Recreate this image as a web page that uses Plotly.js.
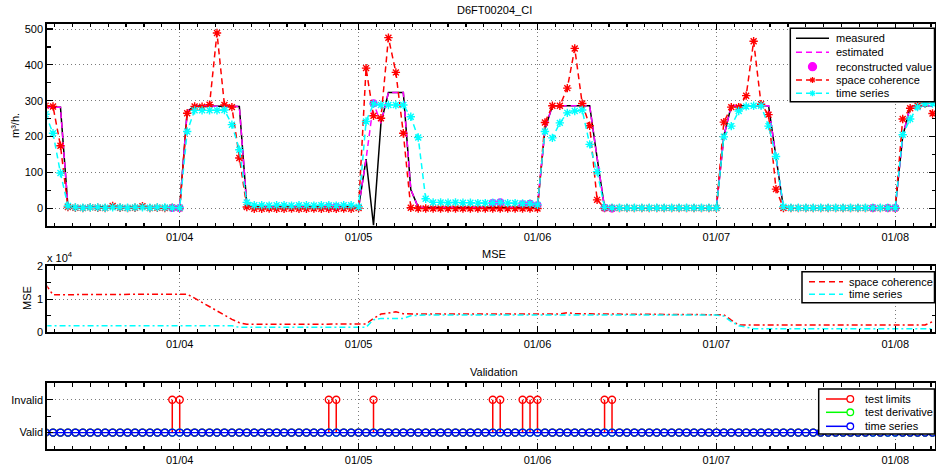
<!DOCTYPE html>
<html><head><meta charset="utf-8">
<script src="https://cdn.plot.ly/plotly-3.0.1.min.js"></script>
<style>html,body{margin:0;padding:0;background:#fff;}#chart{width:936px;height:469px;}</style>
</head><body><div id="chart"></div>
<script>
// ---------- DATA (hourly, from 2013-01-03 06:00) ----------
const seriesStart = '2013-01-03 06:00';
const nHours = 120;
const dayTicks = ['01/04','01/05','01/06','01/07','01/08'];

const measured = [282,282,282,5,
 3,2,3,3,2,3,3,2,3,3,2,3,2,2,
 2,270,285,285,285,285,285,285,284,9,
 4,4,5,4,4,5,4,4,4,5,4,4,4,4,
 2,137,-48,237,323,323,323,52,
 2,2,2,2,2,2,2,2,2,2,2,2,2,2,2,2,2,
 220,286,286,286,286,286,286,140,1,
 1,1,1,1,1,1,1,1,1,1,1,1,1,1,1,
 200,286,286,286,286,286,286,143,1,
 1,1,1,1,1,1,1,1,1,1,1,1,1,1,1,
 200,283,286,286,286];

const spaceCoherence = [286,284,174,3,
 1,0,2,1,0,6,1,0,1,5,0,1,0,1,
 0,265,284,283,289,489,288,282,140,3,
 -2,-2,-1,-2,-2,-1,-2,-2,-1,-2,-2,-2,-1,-2,
 0,391,258,251,476,379,209,1,
 -1,-1,-1,-1,-1,-1,-1,-1,-1,-1,-1,-1,-1,-1,-1,-1,-1,
 239,286,286,335,446,292,230,23,
 0,0,0,0,0,0,0,0,0,0,0,0,0,0,0,0,
 240,282,282,314,466,290,261,53,
 0,0,0,0,0,0,0,0,0,0,0,0,0,0,0,0,
 249,279,286,292,264];

const timeSeries = [262,209,98,6,
 2,1,2,2,1,2,2,1,2,2,1,2,2,1,
 1,214,273,273,273,273,274,233,163,16,
 8,8,7,8,8,7,8,8,7,8,8,7,8,8,
 4,242,291,288,288,288,288,255,197,26,
 16,16,15,16,15,15,14,14,15,16,14,14,13,13,
 9,214,196,238,266,271,274,178,102,
 2,
 1,1,1,1,1,1,1,1,1,1,1,1,1,1,1,
 199,229,271,284,286,286,229,144,4,
 1,1,1,1,1,1,1,1,1,1,1,1,1,1,1,
 205,249,282,292,292];

// invalid samples (test limits) and the reconstructed values there
const invalidTimes = ['2013-01-03 23:00','2013-01-04 00:00','2013-01-04 20:00','2013-01-04 21:00',
 '2013-01-05 02:00','2013-01-05 18:00','2013-01-05 19:00','2013-01-05 22:00','2013-01-05 23:00',
 '2013-01-06 00:00','2013-01-06 09:00','2013-01-06 10:00','2013-01-07 21:00','2013-01-07 23:00','2013-01-08 00:00'];
const reconValues = [0,0,4,3,293,14,16,11,12,8,1,-1,0,0,0];
const derivativeInvalidTimes = [];
const timeSeriesInvalidTimes = [];

const mseSpace = [14500,11300,
 11300,11400,11400,11400,11400,11400,11400,11400,11400,11500,11500,11500,11500,11500,11500,11500,11500,11500,
 10300,9000,7800,6500,5300,3900,2900,2400,
 2400,2400,2400,2400,2400,2400,2400,2400,2400,2400,2400,2400,2400,2400,2400,
 2500,4200,5500,5800,6200,5600,
 5500,5500,5500,5500,5500,5500,5500,5500,5500,5500,5500,5500,5500,5500,5500,5500,5500,5500,5500,5500,5500,
 5900,
 5600,5600,5500,5500,5500,5500,5500,5500,5500,5500,5500,5500,5500,5500,5500,5500,5500,5500,5400,5400,5300,
 3700,2200,
 2200,2200,2200,2200,2200,2200,2200,2200,2200,2200,2200,2200,2200,2200,2200,2200,2200,2200,2200,2200,2200,2200,2200,2200,2200,
 3200];

const mseTime = [2000,2000,2000,2000,2000,2000,2000,2000,2000,2000,2000,2000,2000,2000,2000,2000,2000,2000,2000,2000,2000,2000,2000,2000,2000,2000,
 1500,
 1500,1500,1500,1500,1500,1500,1500,1500,1500,1500,1500,1500,1500,1500,1500,1500,1500,
 3800,4200,4200,4200,4200,5000,
 5200,5200,5200,5200,5200,5200,5200,5200,5200,5200,5200,5200,5200,5200,5200,5200,5200,5200,5200,5200,5200,
 5200,5200,5200,5200,5200,5200,5200,5200,5200,5200,5200,5200,5200,5200,5200,5200,5200,5200,5200,5200,4900,
 3200,2000,1500,
 1100,1100,1100,1100,1100,1100,1100,1100,1100,1100,1100,1100,1100,1100,1100,1100,1100,1100,1100,1100,1100,1100,1100,1100,1100];

// ---------- BUILD ----------
const times = [];
{
  const t0 = Date.UTC(2013,0,3,6);
  for (let i=0;i<nHours;i++){
    const d = new Date(t0 + i*3600000);
    times.push(d.toISOString().slice(0,16).replace('T',' '));
  }
}
const estimated = times.map((t,i)=>{const k=invalidTimes.indexOf(t); return k>=0 ? reconValues[k] : measured[i];});
const flagsFrom = list => times.map(t => list.includes(t) ? 1 : 0);
const testLimits = flagsFrom(invalidTimes);
const testDerivative = flagsFrom(derivativeInvalidTimes);
const tsValidation = flagsFrom(timeSeriesInvalidTimes);
const stemX=[], stemY=[];
testLimits.forEach((f,i)=>{ if(f){ stemX.push(times[i],times[i],null); stemY.push(0,f,null);} });

const RED='#FF0000', CYAN='#00FFFF', MAG='#FF00FF', GREEN='#00FF00', BLUE='#0000FF';
const DASH='6px,4px';
const star = c => ({symbol:'asterisk-open', size:7, color:c, line:{color:c, width:1.4}});
const ring = c => ({symbol:'circle-open', size:7, color:c, line:{color:c, width:1.4}});

const traces = [
 {x:times, y:measured, mode:'lines', line:{color:'black', width:1.5}, xaxis:'x', yaxis:'y'},
 {x:times, y:estimated, mode:'lines', line:{color:MAG, width:1.5, dash:DASH}, xaxis:'x', yaxis:'y'},
 {x:invalidTimes, y:reconValues, mode:'markers', marker:{color:MAG, size:8}, xaxis:'x', yaxis:'y'},
 {x:times, y:spaceCoherence, mode:'lines+markers', line:{color:RED, width:1.5, dash:DASH}, marker:star(RED), xaxis:'x', yaxis:'y'},
 {x:times, y:timeSeries, mode:'lines+markers', line:{color:CYAN, width:1.5, dash:DASH}, marker:star(CYAN), xaxis:'x', yaxis:'y'},
 {x:times, y:mseSpace, mode:'lines', line:{color:RED, width:1.5, dash:'6px,3px,2px,3px'}, xaxis:'x2', yaxis:'y2'},
 {x:times, y:mseTime, mode:'lines', line:{color:CYAN, width:1.5, dash:'6px,3px,2px,3px'}, xaxis:'x2', yaxis:'y2'},
 {x:stemX, y:stemY, mode:'lines', line:{color:RED, width:1.5}, xaxis:'x3', yaxis:'y3', connectgaps:false},
 {x:times, y:testLimits, mode:'markers', marker:ring(RED), xaxis:'x3', yaxis:'y3'},
 {x:times, y:testDerivative, mode:'markers', marker:ring(GREEN), xaxis:'x3', yaxis:'y3'},
 {x:times, y:tsValidation, mode:'lines+markers', line:{color:BLUE, width:1.4}, marker:ring(BLUE), xaxis:'x3', yaxis:'y3'}
];
traces.forEach(t=>{t.showlegend=false; t.hoverinfo='skip';});

const W=936, H=469;
const X = p => p/W, Y = p => 1 - p/H;
const FONT = 'Liberation Sans, Arial, Helvetica, sans-serif';

const axisCommon = {showline:true, linecolor:'black', linewidth:2, mirror:'ticks', ticks:'inside', ticklen:6, tickwidth:1.2, tickcolor:'black',
  showgrid:true, gridcolor:'#7a7a7a', griddash:'1px,3px', gridwidth:1, zeroline:false, tickfont:{size:11, color:'black', family:FONT}};
const xRange = ['2013-01-03 06:14', '2013-01-08 05:20'];
const xDomain = [X(47.3), X(935)];
const dayVals = ['2013-01-04','2013-01-05','2013-01-06','2013-01-07','2013-01-08'];
function xAxis(extra){
  return Object.assign({}, axisCommon, {type:'date', range:xRange, domain:xDomain, tickmode:'array', tickvals:dayVals, ticktext:dayTicks,
    minor:{ticks:'inside', ticklen:3.5, tickwidth:1.2, tickcolor:'black', dtick:8640000, tick0:'2013-01-03', showgrid:false}}, extra||{});
}

const shapes=[], ann=[];
function box(x0,y0,x1,y1){shapes.push({type:'rect',xref:'paper',yref:'paper',x0:X(x0),x1:X(x1),y0:Y(y1),y1:Y(y0),line:{color:'black',width:1.5},fillcolor:'white',layer:'above'});}
function seg(x0,y0,x1,y1,color,dash,width){shapes.push({type:'line',xref:'paper',yref:'paper',x0:X(x0),x1:X(x1),y0:Y(y0),y1:Y(y1),line:{color:color,width:width||1.5,dash:dash||'solid'},layer:'above'});}
function circ(cx,cy,r,color,fill){shapes.push({type:'circle',xref:'paper',yref:'paper',x0:X(cx-r),x1:X(cx+r),y0:Y(cy+r),y1:Y(cy-r),line:{color:color,width:1.3},fillcolor:fill||'rgba(0,0,0,0)',layer:'above'});}
function ast(cx,cy,r,color){ seg(cx-r,cy,cx+r,cy,color,'solid',1.3); seg(cx,cy-r,cx,cy+r,color,'solid',1.3); const d=r*0.72; seg(cx-d,cy-d,cx+d,cy+d,color,'solid',1.3); seg(cx-d,cy+d,cx+d,cy-d,color,'solid',1.3); }
function label(x,y,text,opts){ann.push(Object.assign({xref:'paper',yref:'paper',x:X(x),y:Y(y),text:text,showarrow:false,xanchor:'left',yanchor:'middle',font:{size:11,color:'black',family:FONT}},opts||{}));}

// legend 1
box(790.3,28.3,934.5,101.7);
const L1 = [38.3,52.3,66.7,80,93.3];
seg(796,L1[0],829,L1[0],'black','solid',1.5); label(834,L1[0],'measured');
seg(796,L1[1],829,L1[1],MAG,DASH,1.5); label(834,L1[1],'estimated');
circ(812.5,L1[2],4,MAG,MAG); label(834,L1[2],'reconstructed value');
seg(796,L1[3],829,L1[3],RED,DASH,1.5); ast(812.5,L1[3],3,RED); label(834,L1[3],'space coherence');
seg(796,L1[4],829,L1[4],CYAN,DASH,1.5); ast(812.5,L1[4],3,CYAN); label(834,L1[4],'time series');
// legend 2
box(802,271.7,934.5,302.7);
seg(809,281.7,843,281.7,RED,DASH,1.5); label(846.7,281.7,'space coherence');
seg(809,294.3,843,294.3,CYAN,DASH,1.5); label(846.7,294.3,'time series');
// legend 3
box(818.7,389,934.5,434);
[[399,RED,'test limits'],[412.3,GREEN,'test derivative'],[426.3,BLUE,'time series']].forEach(r=>{
  seg(826,r[0],847,r[0],r[1],'solid',1.5); circ(850.3,r[0],3.3,r[1]); label(863,r[0],r[2]);
});

// titles & labels
label(494,10,'D6FT00204_CI',{xanchor:'center'});
label(494,254,'MSE',{xanchor:'center'});
label(494,371.5,'Validation',{xanchor:'center'});
label(15,125,'m³/h.',{xanchor:'center',textangle:-90});
label(27,298,'MSE',{xanchor:'center',textangle:-90});
label(45,257,'x 10<sup>4</sup>',{xanchor:'left'});

const layout = {
  width:W, height:H, autosize:false, margin:{l:0,r:0,t:0,b:0},
  paper_bgcolor:'white', plot_bgcolor:'white', showlegend:false,
  font:{family:FONT, size:11, color:'black'},
  xaxis: xAxis({anchor:'y'}),
  xaxis2: xAxis({anchor:'y2', matches:'x'}),
  xaxis3: xAxis({anchor:'y3', matches:'x'}),
  yaxis: Object.assign({}, axisCommon, {anchor:'x', domain:[Y(226), Y(23.7)], range:[-50,515], tickmode:'linear', tick0:0, dtick:100,
     minor:{ticks:'inside', ticklen:3.5, tickwidth:1.2, tickcolor:'black', dtick:50, tick0:0, showgrid:false}}),
  yaxis2: Object.assign({}, axisCommon, {anchor:'x2', domain:[Y(332.3), Y(266)], range:[0,20000], tickmode:'array', tickvals:[0,10000,20000], ticktext:['0','1','2'],
     minor:{ticks:'inside', ticklen:3.5, tickwidth:1.2, tickcolor:'black', dtick:5000, tick0:0, showgrid:false}}),
  yaxis3: Object.assign({}, axisCommon, {anchor:'x3', domain:[Y(449), Y(383.3)], range:[-0.5,1.5], tickmode:'array', tickvals:[0,1], ticktext:['Valid','Invalid'],
     minor:{ticks:'inside', ticklen:3.5, tickwidth:1.2, tickcolor:'black', tickmode:'array', tickvals:[0.5], showgrid:false}}),
  shapes:shapes, annotations:ann
};
Plotly.newPlot('chart', traces, layout, {staticPlot:true, displayModeBar:false});
</script></body></html>
